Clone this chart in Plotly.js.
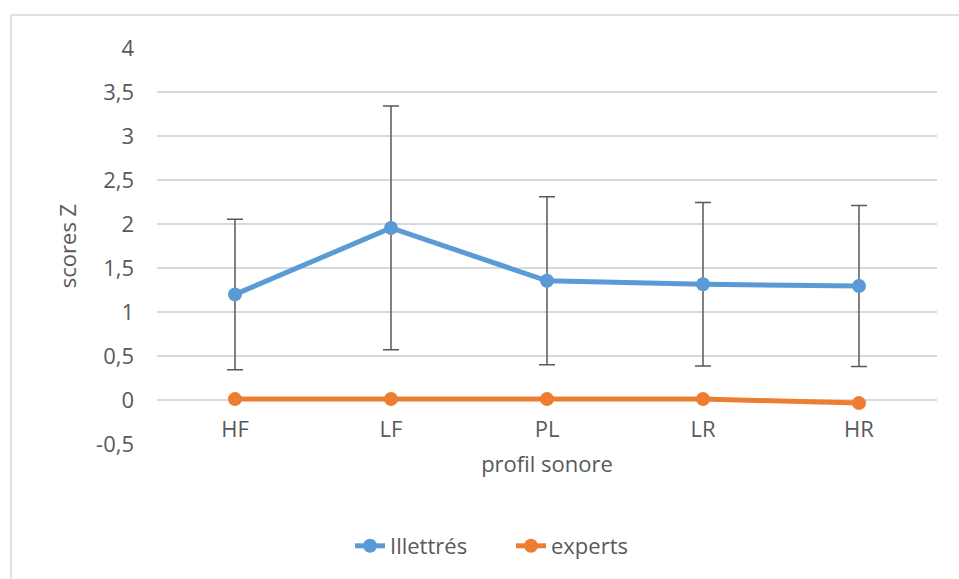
<!DOCTYPE html>
<html>
<head>
<meta charset="utf-8">
<script src="https://cdn.plot.ly/plotly-3.0.1.min.js"></script>
<style>html,body{margin:0;padding:0;background:#fff;}#chart{width:959px;height:579px;}</style>
</head>
<body>
<div id="chart"></div>
<script>
const categories = ["HF", "LF", "PL", "LR", "HR"];
const illettres = [1.20, 1.955, 1.355, 1.315, 1.295];
const illettresErr = [0.855, 1.385, 0.955, 0.93, 0.915];
const experts = [0.01, 0.01, 0.01, 0.01, -0.035];
const yTicks = [-0.5, 0, 0.5, 1, 1.5, 2, 2.5, 3, 3.5, 4];
const yTickText = ["-0,5", "0", "0,5", "1", "1,5", "2", "2,5", "3", "3,5", "4"];

const FONT = "'Open Sans', sans-serif";
const TXT = "#595959";
const FS = 22;
const yMin = -0.5, yMax = 4;

const traces = [
  {
    x: categories, y: illettres, name: "Illettrés", type: "scatter", mode: "lines+markers",
    line: {color: "#5B9BD5", width: 5},
    marker: {color: "#5B9BD5", size: 14},
    error_y: {type: "data", array: illettresErr, visible: true, color: "#595959", thickness: 1.5, width: 8}
  },
  {
    x: categories, y: experts, name: "experts", type: "scatter", mode: "lines+markers",
    line: {color: "#ED7D31", width: 5},
    marker: {color: "#ED7D31", size: 14}
  }
];

const L = 157, R = 22, T = 48, B = 135;
const W = 959, H = 579;
const pw = W - L - R, ph = H - T - B;
function px2x(p) { return (p - L) / pw; }
function py2y(p) { return (H - B - p) / ph; }

const layout = {
  width: W, height: H,
  margin: {l: L, r: R, t: T, b: B},
  paper_bgcolor: "#fff", plot_bgcolor: "#fff",
  font: {family: FONT, color: TXT, size: FS},
  separators: ", ",
  showlegend: true,
  legend: {orientation: "h", x: px2x(350), xanchor: "left", y: py2y(546), yanchor: "middle",
           entrywidth: 116, font: {family: FONT, size: FS, color: TXT}, bgcolor: "rgba(0,0,0,0)"},
  xaxis: {
    type: "category", categoryorder: "array", categoryarray: categories,
    range: [-0.5, 4.5],
    anchor: "free", position: (0 - yMin) / (yMax - yMin),
    showgrid: false, showline: false, zeroline: false, ticks: "",
    ticklabelstandoff: 14,
    tickfont: {family: FONT, size: FS, color: TXT},
    title: {text: "profil sonore", font: {family: FONT, size: FS, color: TXT}, standoff: 14}
  },
  yaxis: {
    range: [yMin, yMax], domain: [0, 1],
    tickvals: yTicks, ticktext: yTickText,
    showgrid: true, gridcolor: "#d9d9d9", gridwidth: 1.5,
    zeroline: false, showline: false, ticks: "", ticklabelstandoff: 22,
    tickfont: {family: FONT, size: FS, color: TXT},
    title: {text: "scores Z", font: {family: FONT, size: FS, color: TXT}, standoff: 13}
  },
  shapes: [
    {type: "rect", xref: "paper", yref: "paper",
     x0: px2x(11), x1: px2x(975), y0: py2y(595), y1: py2y(15),
     line: {color: "#d9d9d9", width: 1.5}, fillcolor: "rgba(0,0,0,0)", layer: "below"}
  ]
};

Plotly.newPlot("chart", traces, layout, {displayModeBar: false, staticPlot: true});
</script>
</body>
</html>
